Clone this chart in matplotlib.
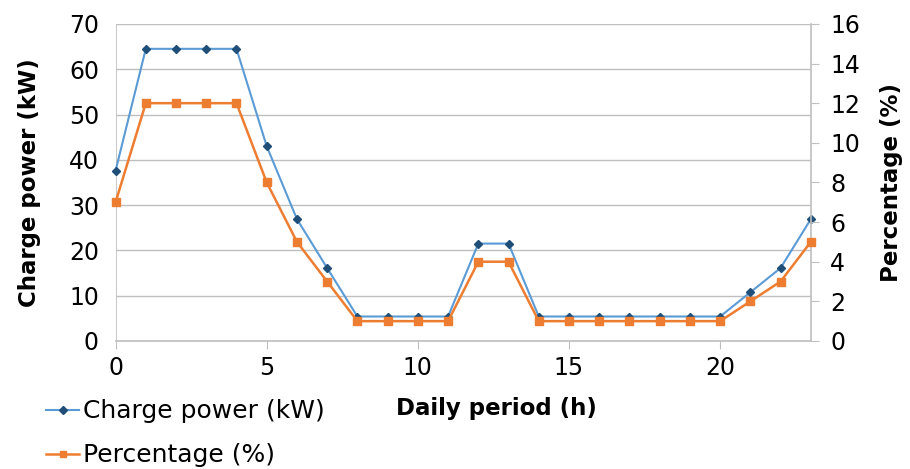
import matplotlib.pyplot as plt
from matplotlib.lines import Line2D

plt.rcParams['font.family'] = ['DejaVu Sans']

hours = list(range(24))
power_kw = [37.6, 64.5, 64.5, 64.5, 64.5, 43.0, 26.9, 16.1, 5.4, 5.4, 5.4, 5.4,
            21.5, 21.5, 5.4, 5.4, 5.4, 5.4, 5.4, 5.4, 5.4, 10.75, 16.1, 26.9]
percentage = [7, 12, 12, 12, 12, 8, 5, 3, 1, 1, 1, 1,
              4, 4, 1, 1, 1, 1, 1, 1, 1, 2, 3, 5]

blue = "#5B9BD5"
blue_mk = "#1F4E79"
orange = "#ED7D31"
grid_c = "#BFBFBF"

fig = plt.figure(figsize=(9.1, 4.69), dpi=100)
ax = fig.add_axes([0.127, 0.273, 0.764, 0.676])
ax2 = ax.twinx()

ax.plot(hours, power_kw, color=blue, lw=1.5, marker="D", ms=4.5,
        mfc=blue_mk, mec=blue_mk, clip_on=False, zorder=3)
ax2.plot(hours, percentage, color=orange, lw=1.8, marker="s", ms=5.5,
         mfc=orange, mec=orange, clip_on=False, zorder=3)

ax.set_xlim(0, 23)
ax.set_ylim(0, 70)
ax2.set_ylim(0, 16)
ax.set_xticks(range(0, 24, 5))
ax.set_yticks(range(0, 71, 10))
ax2.set_yticks(range(0, 17, 2))

ax.grid(axis="y", color=grid_c, lw=1)
ax.set_axisbelow(True)

for a in (ax, ax2):
    for s in ("top", "left"):
        a.spines[s].set_visible(False)
    a.spines["bottom"].set_color(grid_c)
    a.spines["right"].set_color(grid_c)
ax.spines["right"].set_visible(False)
ax2.spines["bottom"].set_visible(False)
ax2.spines["right"].set_linewidth(1.2)
ax.spines["bottom"].set_linewidth(1.2)
ax.axvline(0, color=grid_c, lw=1.2, zorder=1)

ax.tick_params(axis="x", length=6, color=grid_c, direction="out", labelsize=17, pad=5)
ax.tick_params(axis="y", length=0, labelsize=17, pad=12)
ax2.tick_params(axis="y", length=6, color=grid_c, direction="out", labelsize=17, pad=8)

ax.set_ylabel("Charge power (kW)", fontsize=16.5, fontweight="bold", labelpad=20)
ax2.set_ylabel("Percentage (%)", fontsize=16.5, fontweight="bold", labelpad=14)
fig.text(0.546, 0.128, "Daily period (h)", fontsize=16.5, fontweight="bold",
         ha="center", va="center")

handles = [
    Line2D([], [], color=blue, lw=1.5, marker="D", ms=4, mfc=blue_mk, mec=blue_mk),
    Line2D([], [], color=orange, lw=1.8, marker="s", ms=4.5, mfc=orange, mec=orange),
]
fig.legend(handles, ["Charge power (kW)", "Percentage (%)"], loc="upper left",
           bbox_to_anchor=(0.04, 0.17), frameon=False, fontsize=18,
           handlelength=1.3, handletextpad=0.15, labelspacing=0.8,
           borderaxespad=0)

fig.savefig("out.png", dpi=100)
